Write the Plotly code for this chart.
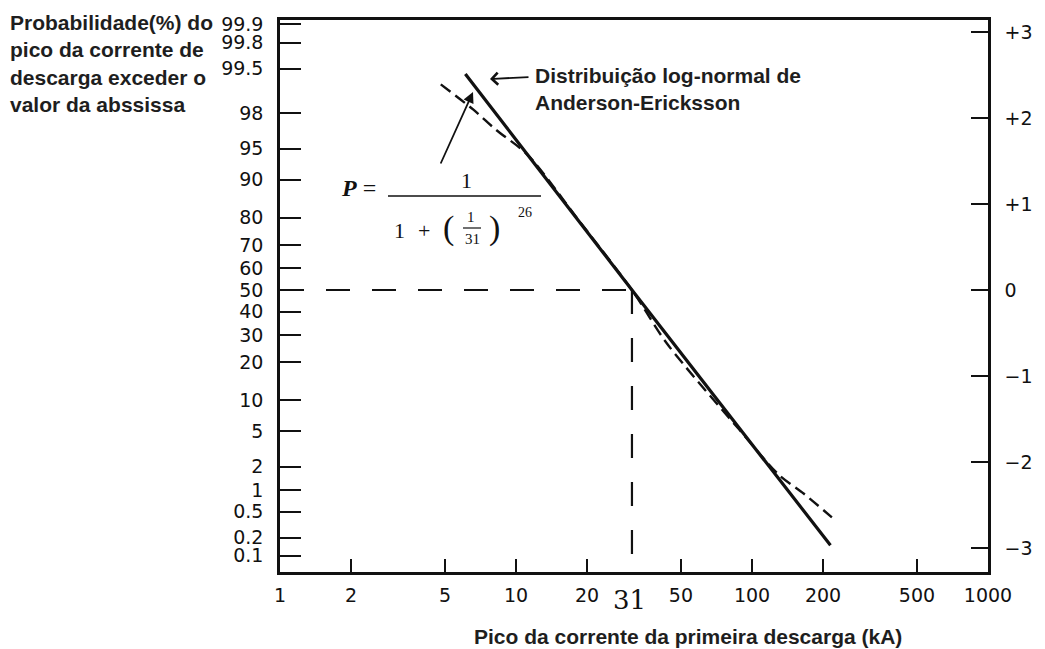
import plotly.graph_objects as go
from statistics import NormalDist

nd = NormalDist()

# Probability-paper axis labels (% of strokes exceeding the abscissa)
prob_ticks = [99.9, 99.8, 99.5, 98, 95, 90, 80, 70, 60, 50, 40, 30, 20, 10, 5, 2, 1, 0.5, 0.2, 0.1]
prob_labels = ["99.9", "99.8", "99.5", "98", "95", "90", "80", "70", "60", "50",
               "40", "30", "20", "10", "5", "2", "1", "0.5", "0.2", "0.1"]

# Standard deviations on the right-hand scale
sigma_ticks = [3, 2, 1, 0, -1, -2, -3]
sigma_labels = ["+3", "+2", "+1", "0", "\u22121", "\u22122", "\u22123"]

# Peak current axis (kA)
current_ticks = [1, 2, 5, 10, 20, 50, 100, 200, 500, 1000]
current_labels = ["1", "2", "5", "10", "20", "50", "100", "200", "500", "1000"]

# Anderson-Eriksson log-normal distribution
ae_current = [6.1, 31, 215]
ae_prob = [99.4, 50, 0.15]

# Curve P = 1 / (1 + (I/31)^2.6)
fit_current = [4.8, 6.6, 8.2, 11.2, 18.7, 31, 43.6, 88.5, 130, 166, 218]
fit_prob = [99.16, 98.2, 96.9, 94.2, 78.5, 50, 26.7, 5.2, 1.58, 0.89, 0.41]

# Median marker
median_current = 31
median_prob = 50
min_current = 1


def z(p):
    return nd.inv_cdf(p / 100.0)


Z_MIN, Z_MAX = -3.279, 3.140

W, H = 1045, 649
L, R, T, B = 280, 57, 20, 77
PW, PH = W - L - R, H - T - B


def px(x):
    return (x - L) / PW


def py(y):
    return (H - B - y) / PH


INK = "#111111"
TXT = "#1e1e1e"

fig = go.Figure()

# Median guide lines
fig.add_trace(go.Scatter(
    x=[min_current, median_current], y=[z(median_prob), z(median_prob)],
    mode="lines", line=dict(color=INK, width=2.2, dash="24px,22px"),
    hoverinfo="skip", showlegend=False))
fig.add_trace(go.Scatter(
    x=[median_current, median_current], y=[z(median_prob), Z_MIN],
    mode="lines", line=dict(color=INK, width=2.2, dash="24px,24px"),
    hoverinfo="skip", showlegend=False))

# Fitted expression (dashed)
fig.add_trace(go.Scatter(
    x=fit_current, y=[z(p) for p in fit_prob],
    mode="lines", line=dict(color=INK, width=2.4, dash="12px,6px", shape="spline", smoothing=0.8),
    showlegend=False))

# Log-normal distribution (solid), on the sigma axis
fig.add_trace(go.Scatter(
    x=ae_current, y=[z(p) for p in ae_prob], yaxis="y2",
    mode="lines", line=dict(color=INK, width=3.2),
    showlegend=False))

tick_font = dict(family="DejaVu Sans", size=19, color=INK)

fig.update_layout(
    width=W, height=H,
    margin=dict(l=L, r=R, t=T, b=B),
    paper_bgcolor="white", plot_bgcolor="white",
    xaxis=dict(type="log", range=[0, 3], tickvals=current_ticks, ticktext=current_labels,
               ticks="inside", ticklen=13, tickwidth=2, tickcolor=INK,
               showline=True, linewidth=2.5, linecolor=INK, mirror=True,
               showgrid=False, zeroline=False, tickfont=tick_font, ticklabelstandoff=4),
    yaxis=dict(range=[Z_MIN, Z_MAX], tickvals=[z(p) for p in prob_ticks], ticktext=prob_labels,
               ticks="inside", ticklen=21, tickwidth=2, tickcolor=INK,
               showline=True, linewidth=2.5, linecolor=INK,
               showgrid=False, zeroline=False, tickfont=tick_font, ticklabelstandoff=10),
    yaxis2=dict(range=[Z_MIN, Z_MAX], overlaying="y", side="right",
                tickvals=sigma_ticks, ticktext=sigma_labels,
                ticks="inside", ticklen=17, tickwidth=2, tickcolor=INK,
                showline=True, linewidth=2.5, linecolor=INK,
                showgrid=False, zeroline=False, tickfont=tick_font, ticklabelstandoff=10),
)

bold = dict(family="Liberation Sans", size=21, color=TXT)
serif = "Liberation Serif"


def label(x, y, text, size, family=serif, **kw):
    d = dict(x=px(x), y=py(y), xref="paper", yref="paper", xanchor="center", yanchor="middle",
             showarrow=False, font=dict(family=family, size=size, color=INK), text=text)
    d.update(kw)
    return d


ann = []
# Y-axis description
ann.append(dict(x=px(8), y=py(9), xref="paper", yref="paper", xanchor="left", yanchor="top",
                align="left", showarrow=False, font=bold,
                text="<b>Probabilidade(%) do<br>pico da corrente de<br>descarga exceder o<br>valor da abssissa</b>"))
# X-axis title
ann.append(dict(x=px(688), y=py(636), xref="paper", yref="paper", xanchor="center", yanchor="middle",
                showarrow=False, font=bold,
                text="<b>Pico da corrente da primeira descarga (kA)</b>"))
# Log-normal label and arrow
ann.append(dict(x=px(533), y=py(62), xref="paper", yref="paper", xanchor="left", yanchor="top",
                align="left", showarrow=False, font=bold,
                text="<b>Distribuição log-normal de<br>Anderson-Ericksson</b>"))
ann.append(dict(x=px(490), y=py(79), xref="paper", yref="paper", ax=40, ay=-2,
                showarrow=True, arrowhead=4, arrowsize=1.3, arrowwidth=1.8, arrowcolor=INK,
                text=""))
# Arrow from the formula to the dashed curve
ann.append(dict(x=px(473), y=py(92), xref="paper", yref="paper", ax=-33, ay=73,
                showarrow=True, arrowhead=2, arrowsize=1.2, arrowwidth=1.8, arrowcolor=INK,
                text=""))
# Formula
ann.append(label(358, 188, "<b><i>P</i></b> =", 24))
ann.append(label(466, 181, "1", 22))
ann.append(label(399, 230, "1", 22))
ann.append(label(424, 230, "+", 22))
ann.append(label(448, 228, "(", 34))
ann.append(label(471, 217, "1", 15))
ann.append(label(472, 239, "31", 15))
ann.append(label(494, 228, ")", 34))
ann.append(label(525, 212, "26", 14))
# Handwritten median value under the axis
ann.append(label(629, 600, "31", 26, family="DejaVu Serif"))
fig.update_layout(annotations=ann)

# Fraction bars of the formula
fig.add_shape(type="line", xref="paper", yref="paper",
              x0=px(388), x1=px(541), y0=py(196), y1=py(196), line=dict(color=INK, width=1.6))
fig.add_shape(type="line", xref="paper", yref="paper",
              x0=px(463), x1=px(481), y0=py(228), y1=py(228), line=dict(color=INK, width=1.2))

fig.write_html("out.html")
